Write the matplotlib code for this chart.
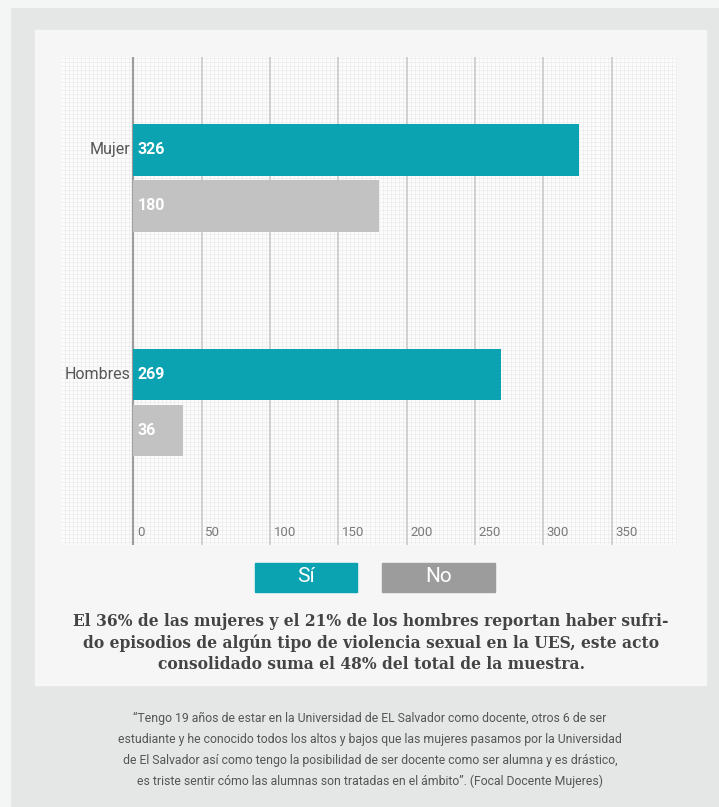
import numpy as np
import matplotlib
matplotlib.use("Agg")
import matplotlib.pyplot as plt
from matplotlib.patches import Rectangle
from matplotlib.ticker import MultipleLocator
from matplotlib.transforms import blended_transform_factory

# data
groups = ['Mujer', 'Hombres']
si_vals = [326, 269]
no_vals = [180, 36]
xticks = [0, 50, 100, 150, 200, 250, 300, 350]
legend_labels = ['Sí', 'No']

caption = ("El 36% de las mujeres y el 21% de los hombres reportan haber sufri-\n"
           "do episodios de algún tipo de violencia sexual en la UES, este acto\n"
           "consolidado suma el 48% del total de la muestra.")
quote = ("“Tengo 19 años de estar en la Universidad de EL Salvador como docente, otros 6 de ser\n"
         "estudiante y he conocido todos los altos y bajos que las mujeres pasamos por la Universidad\n"
         "de El Salvador así como tengo la posibilidad de ser docente como ser alumna y es drástico,\n"
         "es triste sentir cómo las alumnas son tratadas en el ámbito”. (Focal Docente Mujeres)")

TEAL = '#0ba3b2'
GRAY = '#c2c2c2'
GRAY_LEG = '#9c9c9c'
sans = ['Roboto', 'DejaVu Sans']

W, H = 719, 807
fig = plt.figure(figsize=(W / 100, H / 100), dpi=100)
fig.patch.set_facecolor('#e5e7e7')

def fx(px):
    return px / W

def fy(py):
    return 1 - py / H

# white border strips, inner panel
fig.patches.append(Rectangle((0, 0), fx(10), 1, transform=fig.transFigure, color='#f4f5f5', zorder=-2))
fig.patches.append(Rectangle((0, fy(7)), 1, 7 / H, transform=fig.transFigure, color='#f4f5f5', zorder=-2))
fig.patches.append(Rectangle((fx(35), fy(685)), fx(706) - fx(35), (685 - 30) / H,
                             transform=fig.transFigure, color='#f6f6f6', zorder=-1))

ax = fig.add_axes([fx(62), fy(545), (677 - 62) / W, (545 - 57) / H])
ax.set_zorder(1)
ax.set_facecolor('#fcfcfc')
ax.set_axisbelow(True)

ypos = np.arange(len(groups))
h = 0.228
off = 0.125
ax.barh(ypos - off, si_vals, height=h, color=TEAL, zorder=3)
ax.barh(ypos + off, no_vals, height=h, color=GRAY, zorder=3)

ax.set_xlim(-52.3, 397.9)
ax.set_ylim(1.638, -0.54)

# fine background grid
ax.xaxis.set_minor_locator(MultipleLocator(50 / 17))
ax.yaxis.set_minor_locator(MultipleLocator(4 / 224))
ax.grid(which='minor', color='#ececec', lw=0.5)
ax.set_xticks(xticks)
ax.set_yticks([])
ax.tick_params(which='both', length=0, labelbottom=False, labelleft=False)
for t in xticks:
    ax.axvline(t, color='#9e9e9e' if t == 0 else '#c9c9c9', lw=1.6 if t == 0 else 1.2, zorder=1)
for s in ax.spines.values():
    s.set_visible(False)

tr = blended_transform_factory(ax.transData, ax.transAxes)
for t in xticks:
    ax.text(t + 2.5, 0.025, str(t), transform=tr, ha='left', va='center',
            fontsize=9.5, color='#7a7a7a', family=sans)

for i, g in enumerate(groups):
    ax.text(-2, i - off, g, ha='right', va='center', fontsize=11.5, color='#555555', family=sans)
    ax.text(3, i - off, str(si_vals[i]), ha='left', va='center', fontsize=11.5,
            color='white', fontweight='bold', family=sans, zorder=4)
    ax.text(3, i + off, str(no_vals[i]), ha='left', va='center', fontsize=11.5,
            color='white', fontweight='bold', family=sans, zorder=4)

# legend boxes
for (x0, x1), lab, col in zip([(255, 357), (382, 495)], legend_labels, [TEAL, GRAY_LEG]):
    fig.patches.append(Rectangle((fx(x0), fy(592)), fx(x1) - fx(x0), 29 / H,
                                 transform=fig.transFigure, color=col, zorder=2))
    fig.text(fx((x0 + x1) / 2), fy(577), lab, ha='center', va='center', fontsize=15,
             color='white', family=sans, zorder=3)

fig.text(fx(371), fy(643), caption, ha='center', va='center', fontsize=11.2,
         fontweight='bold', color='#444444', family='DejaVu Serif', linespacing=1.35)

fig.text(fx(370), fy(750), quote, ha='center', va='center', fontsize=8.8,
         color='#555555', family=sans, linespacing=1.8)

fig.savefig('out.png', dpi=100, facecolor=fig.get_facecolor())
